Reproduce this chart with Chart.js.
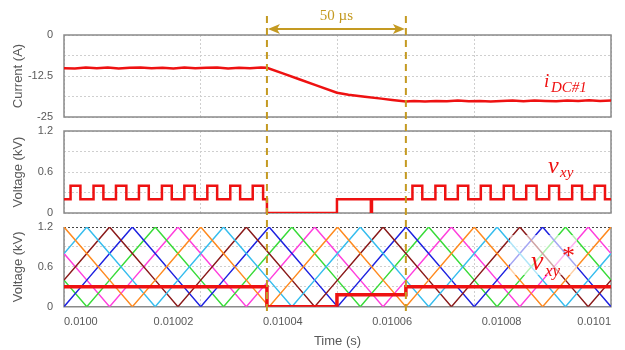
<!DOCTYPE html>
<html><head><meta charset="utf-8">
<script src="https://cdn.jsdelivr.net/npm/chart.js@4.4.1/dist/chart.umd.min.js"></script>
<style>
html,body{margin:0;padding:0;background:#fff;width:625px;height:350px;overflow:hidden}
#wrap{position:relative;width:625px;height:350px}
canvas{position:absolute;left:0;display:block}
</style></head><body>
<div id="wrap">
<canvas id="c1" width="625" height="124" style="top:0"></canvas>
<canvas id="c2" width="625" height="96" style="top:124px"></canvas>
<canvas id="c3" width="625" height="130" style="top:220px"></canvas>
</div>
<script>
// time axis: microseconds after t = 0.0100 s
const xTickValues = [0, 20, 40, 60, 80, 100];
const xTickLabels = ['0.0100', '0.01002', '0.01004', '0.01006', '0.01008', '0.0101'];
const xGridValues = [0, 25, 50, 75, 100];
const markerTimes = [37.1, 62.5];
const markerLabel = '50 µs';

// panel 1: DC current (A)
const currentTimes = [0,2,4,6,8,10,12,14,16,18,20,22,24,26,28,30,32,34,36,37.1,
  40,43,46,49.9,52,55,58,60,62.5,
  64,66,68,70,72,74,76,78,80,82,84,86,88,90,92,94,96,98,100];
const currentValues = [-10.1,-10.2,-9.9,-10.1,-9.9,-10.2,-10.0,-9.9,-10.1,-10.0,-10.2,-9.9,-10.1,-10.0,-9.9,-10.2,-10.0,-10.1,-9.9,-10.0,
  -11.7,-13.5,-15.3,-17.6,-18.2,-18.8,-19.4,-19.8,-20.3,
  -20.1,-20.3,-20.1,-20.2,-20.0,-20.2,-20.1,-20.3,-20.1,-20.0,-20.2,-20.0,-20.1,-20.2,-20.0,-20.1,-19.9,-20.1,-20.0];
const currentTicks = [0, -12.5, -25];
const currentTickLabels = ['0', '-12.5', '-25'];
const currentGrid = [-25, -18.75, -12.5, -6.25, 0];

// panel 2: v_xy (kV), value holds from each time until the next one
const vxyTimes = [0,1.2,3.0,5.4,7.2,9.5,11.4,13.7,15.5,17.9,19.7,22.0,23.9,26.2,28.0,30.4,32.2,34.5,36.4,37.1,
  49.9,56.1,56.3,
  63.7,65.5,67.9,69.7,72.0,73.9,76.2,78.0,80.4,82.2,84.5,86.4,88.7,90.5,92.9,94.7,97.0,98.9,100];
const vxyValues = [0.2,0.4,0.2,0.4,0.2,0.4,0.2,0.4,0.2,0.4,0.2,0.4,0.2,0.4,0.2,0.4,0.2,0.4,0.2,0,
  0.2,0,0.2,
  0.4,0.2,0.4,0.2,0.4,0.2,0.4,0.2,0.4,0.2,0.4,0.2,0.4,0.2,0.4,0.2,0.4,0.2,0.2];
const voltTicks = [0, 0.6, 1.2];
const voltTickLabels = ['0', '0.6', '1.2'];
const voltGrid = [0, 0.3, 0.6, 0.9, 1.2];

// panel 3: carriers (kV) at their corner times, and reference v_xy*
const carrierTimes = [0,4.17,8.33,12.5,16.67,20.83,25,29.17,33.33,37.5,41.67,45.83,50,54.17,58.33,62.5,66.67,70.83,75,79.17,83.33,87.5,91.67,95.83,100];
const carrierOrange  = [1.2,0.8,0.4,0,0.4,0.8, 1.2,0.8,0.4,0,0.4,0.8, 1.2,0.8,0.4,0,0.4,0.8, 1.2,0.8,0.4,0,0.4,0.8, 1.2];
const carrierCyan    = [0.8,1.2,0.8,0.4,0,0.4, 0.8,1.2,0.8,0.4,0,0.4, 0.8,1.2,0.8,0.4,0,0.4, 0.8,1.2,0.8,0.4,0,0.4, 0.8];
const carrierBrown   = [0.4,0.8,1.2,0.8,0.4,0, 0.4,0.8,1.2,0.8,0.4,0, 0.4,0.8,1.2,0.8,0.4,0, 0.4,0.8,1.2,0.8,0.4,0, 0.4];
const carrierBlue    = [0,0.4,0.8,1.2,0.8,0.4, 0,0.4,0.8,1.2,0.8,0.4, 0,0.4,0.8,1.2,0.8,0.4, 0,0.4,0.8,1.2,0.8,0.4, 0];
const carrierGreen   = [0.4,0,0.4,0.8,1.2,0.8, 0.4,0,0.4,0.8,1.2,0.8, 0.4,0,0.4,0.8,1.2,0.8, 0.4,0,0.4,0.8,1.2,0.8, 0.4];
const carrierMagenta = [0.8,0.4,0,0.4,0.8,1.2, 0.8,0.4,0,0.4,0.8,1.2, 0.8,0.4,0,0.4,0.8,1.2, 0.8,0.4,0,0.4,0.8,1.2, 0.8];
const vrefTimes = [0, 37.1, 49.9, 62.5, 100];
const vrefValues = [0.3, 0, 0.18, 0.3, 0.3];

const RED = '#EE1111';
const GOLD = '#C49A22';
const GRID = '#cfcfcf';
const TXT = '#595959';
const BORDER = '#8a8a8a';
const FONT = "'Liberation Sans', Arial, sans-serif";
const SERIF = "'Liberation Serif', 'DejaVu Serif', serif";
const CLEAR = 'rgba(0,0,0,0)';

const pts = (xs, ys) => xs.map((x, i) => ({x, y: ys[i]}));

function xScale(showLabels) {
  const all = [...new Set([...xGridValues, ...(showLabels ? xTickValues : [])])].sort((a, b) => a - b);
  return {
    type: 'linear', min: 0, max: 100,
    afterBuildTicks: s => { s.ticks = all.map(v => ({value: v})); },
    grid: { color: c => (c.tick && xGridValues.includes(c.tick.value)) ? GRID : CLEAR, lineWidth: 1,
      drawTicks: showLabels, tickLength: 9, tickColor: CLEAR },
    border: { display: false, dash: [2, 2] },
    ticks: { display: showLabels, autoSkip: false, maxRotation: 0, minRotation: 0, align: 'inner', padding: 0, color: TXT,
      font: {family: FONT, size: 11},
      callback: v => { const i = xTickValues.indexOf(v); return i >= 0 ? xTickLabels[i] : ''; } },
    title: showLabels ? {display: true, text: 'Time (s)', color: TXT, font: {family: FONT, size: 13}, padding: {top: 0, bottom: 1}} : {display: false},
    afterFit: s => { s.height = showLabels ? 43.3 : 0; }
  };
}
function yScale(min, max, gridVals, tickVals, tickLabels, title) {
  return {
    type: 'linear', min, max,
    afterBuildTicks: s => { s.ticks = gridVals.map(v => ({value: v})); },
    grid: { color: GRID, lineWidth: 1, drawTicks: true, tickLength: 11, tickColor: CLEAR },
    border: { display: false, dash: [2, 2] },
    ticks: { autoSkip: false, padding: 0, color: TXT, font: {family: FONT, size: 11},
      callback: v => { const i = tickVals.findIndex(t => Math.abs(t - v) < 1e-9); return i >= 0 ? tickLabels[i] : ''; } },
    title: { display: true, text: title, color: TXT, font: {family: FONT, size: 13}, padding: {top: 11, bottom: 0} },
    afterFit: s => { s.width = 64; }
  };
}
const framePlugin = topStyle => ({
  id: 'frame',
  beforeDatasetsDraw(chart) {
    const {ctx, chartArea: a} = chart;
    ctx.save();
    ctx.strokeStyle = BORDER; ctx.lineWidth = 1.5;
    ctx.beginPath();
    ctx.moveTo(a.left, a.top); ctx.lineTo(a.left, a.bottom); ctx.lineTo(a.right, a.bottom); ctx.lineTo(a.right, a.top);
    if (topStyle === 'solid') ctx.closePath();
    ctx.stroke();
    if (topStyle === 'dotted') {
      ctx.strokeStyle = '#444'; ctx.lineWidth = 1; ctx.setLineDash([2, 2]);
      ctx.beginPath(); ctx.moveTo(a.left, a.top + 0.5); ctx.lineTo(a.right, a.top + 0.5); ctx.stroke();
    }
    ctx.restore();
  }
});
const goldPlugin = (y0, y1, arrow) => ({
  id: 'gold',
  afterDraw(chart) {
    const {ctx} = chart; const xs = chart.scales.x;
    const px = markerTimes.map(t => xs.getPixelForValue(t));
    ctx.save();
    ctx.strokeStyle = GOLD; ctx.fillStyle = GOLD; ctx.lineWidth = 2;
    ctx.setLineDash([7, 5]);
    px.forEach(p => { ctx.beginPath(); ctx.moveTo(p, y0); ctx.lineTo(p, y1); ctx.stroke(); });
    ctx.setLineDash([]);
    if (arrow) {
      const ay = 29, L = 10, H = 5;
      ctx.beginPath(); ctx.moveTo(px[0] + 4, ay); ctx.lineTo(px[1] - 4, ay); ctx.stroke();
      ctx.beginPath(); ctx.moveTo(px[0] + 1, ay); ctx.lineTo(px[0] + 1 + L + 2, ay - H); ctx.lineTo(px[0] + 1 + L - 1, ay); ctx.lineTo(px[0] + 1 + L + 2, ay + H); ctx.closePath(); ctx.fill();
      ctx.beginPath(); ctx.moveTo(px[1] - 1, ay); ctx.lineTo(px[1] - 1 - L - 2, ay - H); ctx.lineTo(px[1] - 1 - L + 1, ay); ctx.lineTo(px[1] - 1 - L - 2, ay + H); ctx.closePath(); ctx.fill();
      ctx.font = '15px ' + SERIF; ctx.textAlign = 'center'; ctx.textBaseline = 'alphabetic';
      ctx.fillText(markerLabel, (px[0] + px[1]) / 2, 20);
    }
    ctx.restore();
  }
});
const labelPlugin = draw => ({ id: 'lbl', afterDatasetsDraw(chart) { const ctx = chart.ctx; ctx.save(); ctx.fillStyle = RED; ctx.textBaseline = 'alphabetic'; ctx.textAlign = 'left'; draw(ctx); ctx.restore(); } });
const baseOpts = (padTop, padBottom, xs, ys) => ({
  responsive: false, animation: false, events: [],
  layout: { autoPadding: false, padding: {top: padTop, right: 14, bottom: padBottom, left: 0} },
  plugins: { legend: {display: false}, tooltip: {enabled: false} },
  elements: { point: {radius: 0}, line: {tension: 0} },
  scales: { x: xs, y: ys }
});

new Chart(document.getElementById('c1'), {
  type: 'line',
  data: { datasets: [{ data: pts(currentTimes, currentValues), borderColor: RED, borderWidth: 2.5 }] },
  options: baseOpts(35, 7, xScale(false), yScale(-25, 0, currentGrid, currentTicks, currentTickLabels, 'Current (A)')),
  plugins: [framePlugin('solid'), labelPlugin(ctx => {
    ctx.font = 'italic 19px ' + SERIF; ctx.fillText('i', 544, 87);
    ctx.font = 'italic 15px ' + SERIF; ctx.fillText('DC#1', 551, 92);
  }), goldPlugin(16, 124, true)]
});

new Chart(document.getElementById('c2'), {
  type: 'line',
  data: { datasets: [{ data: pts(vxyTimes, vxyValues), borderColor: RED, borderWidth: 2.5, stepped: 'before' }] },
  options: baseOpts(7, 7, xScale(false), yScale(0, 1.2, voltGrid, voltTicks, voltTickLabels, 'Voltage (kV)')),
  plugins: [framePlugin('solid'), labelPlugin(ctx => {
    ctx.font = 'italic 24px ' + SERIF; ctx.fillText('v', 548, 49);
    ctx.font = 'italic 15px ' + SERIF; ctx.fillText('xy', 560, 53);
  }), goldPlugin(0, 96, false)]
});

const carrierSets = [
  [carrierOrange, '#FF8A1F'], [carrierCyan, '#36BDEE'], [carrierBrown, '#8A1A1A'],
  [carrierBlue, '#1E22E0'], [carrierGreen, '#39DB39'], [carrierMagenta, '#FF3FDD']
];
new Chart(document.getElementById('c3'), {
  type: 'line',
  data: { datasets: [
    { data: pts(vrefTimes, vrefValues), borderColor: RED, borderWidth: 3.5, stepped: 'before' },
    ...carrierSets.map(([vals, col]) => ({ data: pts(carrierTimes, vals), borderColor: col, borderWidth: 1.5 }))
  ] },
  options: baseOpts(7, 0, xScale(true), yScale(0, 1.2, voltGrid, voltTicks, voltTickLabels, 'Voltage (kV)')),
  plugins: [framePlugin('dotted'), labelPlugin(ctx => {
    ctx.fillStyle = 'rgba(255,255,255,0.6)'; ctx.fillRect(510, 15, 67, 40);
    ctx.fillStyle = RED;
    ctx.font = 'italic 28px ' + SERIF; ctx.fillText('v', 531, 50);
    ctx.font = 'italic 17px ' + SERIF; ctx.fillText('xy', 545, 56);
    ctx.font = '26px ' + SERIF; ctx.textBaseline = 'top'; ctx.fillText('*', 562, 24);
  }), goldPlugin(0, 95, false)]
});
</script>
</body></html>
